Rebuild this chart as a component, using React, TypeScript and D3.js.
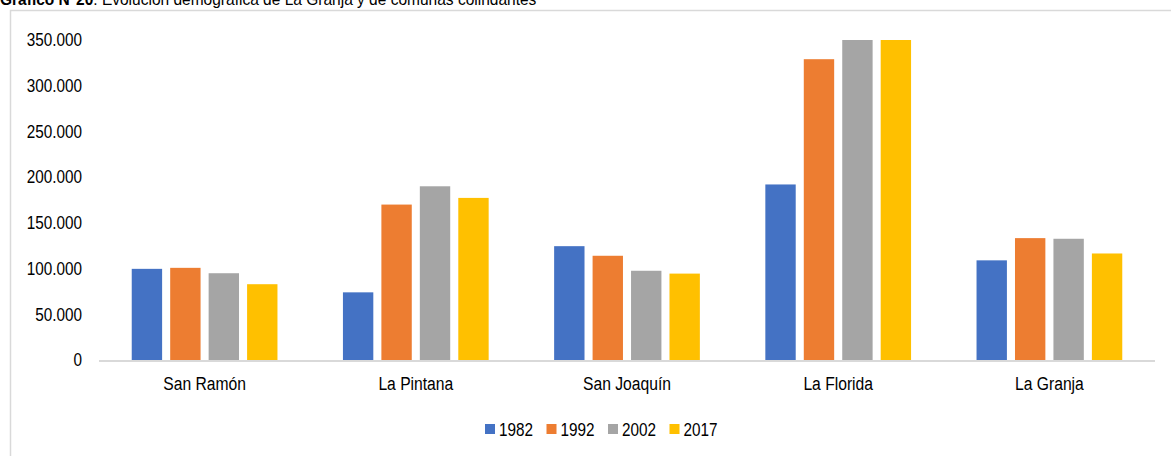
import React from "react";
import * as d3 from "d3";

const categories = ["San Ramón", "La Pintana", "San Joaquín", "La Florida", "La Granja"];
const years = ["1982", "1992", "2002", "2017"];
const values1982 = [99700, 74000, 124500, 192000, 109000];
const values1992 = [100800, 170000, 114000, 329000, 133300];
const values2002 = [94900, 190000, 97600, 365700, 132600];
const values2017 = [82900, 177300, 94500, 366900, 116500];
const yTicks = [0, 50000, 100000, 150000, 200000, 250000, 300000, 350000];
const colors = ["#4472C4", "#ED7D31", "#A5A5A5", "#FFC000"];

const series = [values1982, values1992, values2002, values2017];

const FONT = "'Liberation Sans', Arial, sans-serif";
const SX = 0.85;

function T(props: { x: number; y: number; anchor?: string; size?: number; sx?: number; dy?: string; children: React.ReactNode }) {
  const { x, y, anchor = "start", size = 18, sx = SX, dy, children } = props;
  return (
    <g transform={`translate(${x},${y}) scale(${sx},1)`}>
      <text x={0} y={0} dy={dy} textAnchor={anchor} fontFamily={FONT} fontSize={size} fill="#000">
        {children}
      </text>
    </g>
  );
}

export default function App() {
  const W = 1171;
  const H = 456;
  const plotLeft = 99;
  const plotRight = 1155;
  const y0 = 360;
  const yTop = 40;

  const x = d3.scaleBand<string>().domain(categories).range([plotLeft, plotRight]).paddingInner(0).paddingOuter(0);
  const groupW = x.bandwidth() * 0.69;
  const inner = d3.scaleBand<string>().domain(years).range([0, groupW]).paddingInner(0.21).paddingOuter(0);
  const y = d3.scaleLinear().domain([0, 350000]).range([y0, yTop]).clamp(true);
  const fmt = (v: number) => d3.format(",")(v).replace(/,/g, ".");

  const legendX = d3.scalePoint<string>().domain(years).range([485, 485 + 3 * 61.5]);

  return (
    <div style={{ position: "fixed", left: 0, top: 0 }}>
      <svg width={W} height={H} style={{ display: "block", background: "#fff" }}>
        <rect x={10.5} y={10.5} width={1200} height={500} fill="#fff" stroke="#d9d9d9" strokeWidth={1.5} />
        <T x={0} y={5} size={16} sx={0.97}>
          <tspan fontWeight="bold">Gráfico N°20</tspan>
          <tspan>: Evolución demográfica de La Granja y de comunas colindantes</tspan>
        </T>
        {yTicks.map((t) => (
          <T key={t} x={82} y={y(t)} dy="0.35em" anchor="end">
            {fmt(t)}
          </T>
        ))}
        {categories.map((c, ci) => {
          const gx = (x(c) as number) + (x.bandwidth() - groupW) / 2;
          return (
            <g key={c}>
              {years.map((yr, si) => {
                const v = series[si][ci];
                const top = y(v);
                return (
                  <rect
                    key={yr}
                    x={gx + (inner(yr) as number)}
                    y={top}
                    width={inner.bandwidth()}
                    height={y0 - top}
                    fill={colors[si]}
                  />
                );
              })}
              <T x={(x(c) as number) + x.bandwidth() / 2} y={390} anchor="middle" sx={0.87}>
                {c}
              </T>
            </g>
          );
        })}
        <line x1={plotLeft} x2={plotRight} y1={y0 + 1} y2={y0 + 1} stroke="#d9d9d9" strokeWidth={2} />
        {years.map((yr, i) => (
          <g key={yr}>
            <rect x={legendX(yr) as number} y={424} width={10} height={10} fill={colors[i]} />
            <T x={(legendX(yr) as number) + 14} y={435.5}>
              {yr}
            </T>
          </g>
        ))}
      </svg>
    </div>
  );
}
